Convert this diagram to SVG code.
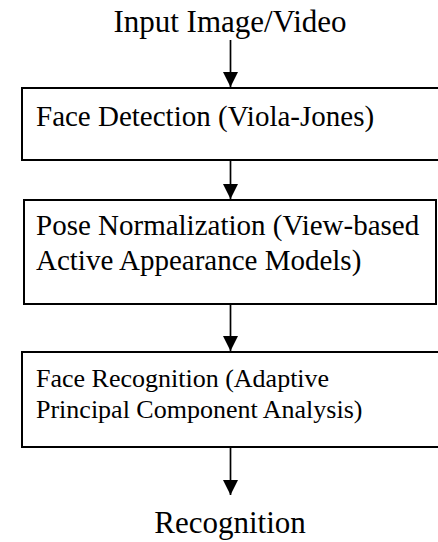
<svg xmlns="http://www.w3.org/2000/svg" width="438" height="542" viewBox="0 0 438 542">
  <defs>
    <marker id="arrowhead" markerWidth="15" markerHeight="15" refX="15" refY="7.5" orient="auto" markerUnits="userSpaceOnUse">
      <path d="M0,0 L15,7.5 L0,15 Z" fill="#000"/>
    </marker>
  </defs>
  <style>
    .label { font-family: "Liberation Serif", "Times New Roman", serif; fill: #000; }
    .big { font-size: 31px; }
    .mid { font-size: 29px; }
    .small { font-size: 26px; }
    .box { fill: #fff; stroke: #000; stroke-width: 2; }
    .flow { stroke: #000; stroke-width: 1.7; fill: none; marker-end: url(#arrowhead); }
  </style>
  <rect x="0" y="0" width="438" height="542" fill="#fff"/>

  <!-- source and sink labels -->
  <g id="input">
    <text class="label big" x="230" y="32" text-anchor="middle">Input Image/Video</text>
  </g>
  <g id="output">
    <text class="label big" x="230" y="533" text-anchor="middle">Recognition</text>
  </g>

  <!-- processing stages -->
  <g id="detection">
    <rect class="box" x="22" y="88" width="420" height="72"/>
    <text class="label mid" x="36" y="126">Face Detection (Viola-Jones)</text>
  </g>
  <g id="normalization">
    <rect class="box" x="24" y="200" width="412" height="104"/>
    <text class="label mid" x="36" y="235">Pose Normalization (View-based</text>
    <text class="label mid" x="36" y="270">Active Appearance Models)</text>
  </g>
  <g id="recognition">
    <rect class="box" x="22" y="352" width="420" height="95"/>
    <text class="label small" x="36" y="387">Face Recognition (Adaptive</text>
    <text class="label small" x="36" y="418">Principal Component Analysis)</text>
  </g>

  <!-- connectors -->
  <g id="connectors">
    <line class="flow" x1="230.5" y1="40" x2="230.5" y2="87"/>
    <line class="flow" x1="230.5" y1="161" x2="230.5" y2="199"/>
    <line class="flow" x1="230.5" y1="305" x2="230.5" y2="351"/>
    <line class="flow" x1="230.5" y1="448" x2="230.5" y2="495"/>
  </g>
</svg>
